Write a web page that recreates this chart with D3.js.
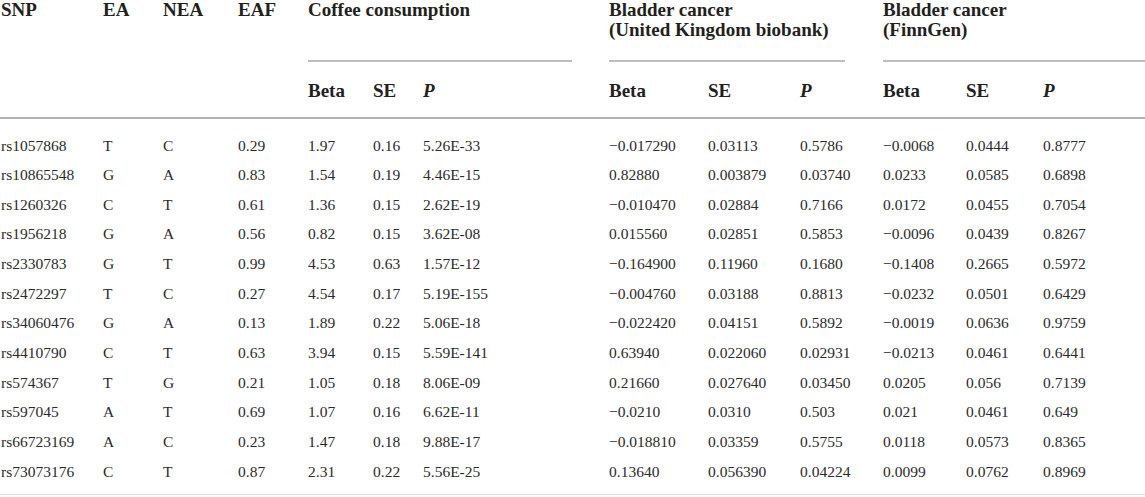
<!DOCTYPE html>
<html>
<head>
<meta charset="utf-8">
<script src="https://cdn.jsdelivr.net/npm/d3@7"></script>
<style>
  html, body { margin: 0; padding: 0; background: #fff; }
  svg { display: block; }
  .hd { font-family: "Liberation Serif", "DejaVu Serif", serif; font-weight: bold; font-size: 19px; fill: #231f20; }
  .cell { font-family: "Liberation Serif", "DejaVu Serif", serif; font-size: 15.5px; fill: #2b2b2b; }
</style>
</head>
<body>
<div id="table"></div>
<script>
// table values, as printed
const snps = ['rs1057868', 'rs10865548', 'rs1260326', 'rs1956218', 'rs2330783', 'rs2472297',
  'rs34060476', 'rs4410790', 'rs574367', 'rs597045', 'rs66723169', 'rs73073176'];
const effectAllele = ['T', 'G', 'C', 'G', 'G', 'T', 'G', 'C', 'T', 'A', 'A', 'C'];
const otherAllele = ['C', 'A', 'T', 'A', 'T', 'C', 'A', 'T', 'G', 'T', 'C', 'T'];
const eaf = ['0.29', '0.83', '0.61', '0.56', '0.99', '0.27', '0.13', '0.63', '0.21', '0.69', '0.23', '0.87'];

const coffeeBeta = ['1.97', '1.54', '1.36', '0.82', '4.53', '4.54', '1.89', '3.94', '1.05', '1.07', '1.47', '2.31'];
const coffeeSE = ['0.16', '0.19', '0.15', '0.15', '0.63', '0.17', '0.22', '0.15', '0.18', '0.16', '0.18', '0.22'];
const coffeeP = ['5.26E-33', '4.46E-15', '2.62E-19', '3.62E-08', '1.57E-12', '5.19E-155',
  '5.06E-18', '5.59E-141', '8.06E-09', '6.62E-11', '9.88E-17', '5.56E-25'];

const ukBeta = ['\u22120.017290', '0.82880', '\u22120.010470', '0.015560', '\u22120.164900', '\u22120.004760',
  '\u22120.022420', '0.63940', '0.21660', '\u22120.0210', '\u22120.018810', '0.13640'];
const ukSE = ['0.03113', '0.003879', '0.02884', '0.02851', '0.11960', '0.03188',
  '0.04151', '0.022060', '0.027640', '0.0310', '0.03359', '0.056390'];
const ukP = ['0.5786', '0.03740', '0.7166', '0.5853', '0.1680', '0.8813',
  '0.5892', '0.02931', '0.03450', '0.503', '0.5755', '0.04224'];

const finnBeta = ['\u22120.0068', '0.0233', '0.0172', '\u22120.0096', '\u22120.1408', '\u22120.0232',
  '\u22120.0019', '\u22120.0213', '0.0205', '0.021', '0.0118', '0.0099'];
const finnSE = ['0.0444', '0.0585', '0.0455', '0.0439', '0.2665', '0.0501',
  '0.0636', '0.0461', '0.056', '0.0461', '0.0573', '0.0762'];
const finnP = ['0.8777', '0.6898', '0.7054', '0.8267', '0.5972', '0.6429',
  '0.9759', '0.6441', '0.7139', '0.649', '0.8365', '0.8969'];

const groupNames = [['Coffee consumption'], ['Bladder cancer', '(United Kingdom biobank)'], ['Bladder cancer', '(FinnGen)']];
const statNames = ['Beta', 'SE', 'P'];
const idNames = ['SNP', 'EA', 'NEA', 'EAF'];

const WIDTH = 1145;
const HEIGHT = 497;
// left edge of each column
const COL_X = [1, 103, 163, 238, 308, 373, 423, 609, 708, 800, 883, 966, 1043];
// spanning rules under the group headers
const GROUP_RULE = [[308, 572], [609, 845], [883, 1145]];

const columns = [snps, effectAllele, otherAllele, eaf,
  coffeeBeta, coffeeSE, coffeeP, ukBeta, ukSE, ukP, finnBeta, finnSE, finnP];

const svg = d3.select('#table').append('svg')
  .attr('width', WIDTH)
  .attr('height', HEIGHT);

const x = d3.scaleOrdinal().domain(d3.range(columns.length)).range(COL_X);
const y = d3.scalePoint().domain(snps).range([150.5, 476.5]);

// header row 1
const head = svg.append('g').attr('class', 'head');
head.selectAll('text.id')
  .data(idNames)
  .join('text')
  .attr('class', 'hd id')
  .attr('x', (d, i) => x(i))
  .attr('y', 16)
  .text(d => d);

const groups = head.selectAll('text.grp')
  .data(groupNames)
  .join('text')
  .attr('class', 'hd grp')
  .attr('x', (d, i) => x(4 + i * 3))
  .attr('y', 16);
groups.selectAll('tspan')
  .data(d => d)
  .join('tspan')
  .attr('x', function () { return d3.select(this.parentNode).attr('x'); })
  .attr('dy', (d, i) => (i === 0 ? 0 : 20))
  .text(d => d);

head.selectAll('line.grp')
  .data(GROUP_RULE)
  .join('line')
  .attr('x1', d => d[0])
  .attr('x2', d => d[1])
  .attr('y1', 61)
  .attr('y2', 61)
  .attr('stroke', '#a6a6a6')
  .attr('stroke-width', 1.5);

// header row 2
const stats = d3.range(4, 13);
head.selectAll('text.stat')
  .data(stats)
  .join('text')
  .attr('class', 'hd stat')
  .attr('x', d => x(d))
  .attr('y', 97)
  .attr('font-style', d => (statNames[(d - 4) % 3] === 'P' ? 'italic' : null))
  .text(d => statNames[(d - 4) % 3]);

svg.append('line')
  .attr('x1', 0).attr('x2', WIDTH)
  .attr('y1', 118).attr('y2', 118)
  .attr('stroke', '#9a9a9a')
  .attr('stroke-width', 1.5);

// body
const rows = svg.append('g').attr('class', 'body')
  .selectAll('g')
  .data(snps)
  .join('g')
  .attr('transform', d => `translate(0, ${y(d)})`);

rows.selectAll('text')
  .data((d, r) => columns.map(col => col[r]))
  .join('text')
  .attr('class', 'cell')
  .attr('x', (d, i) => x(i))
  .text(d => d);

svg.append('line')
  .attr('x1', 0).attr('x2', WIDTH)
  .attr('y1', 494.5).attr('y2', 494.5)
  .attr('stroke', '#dcdcdc')
  .attr('stroke-width', 1);
</script>
</body>
</html>
